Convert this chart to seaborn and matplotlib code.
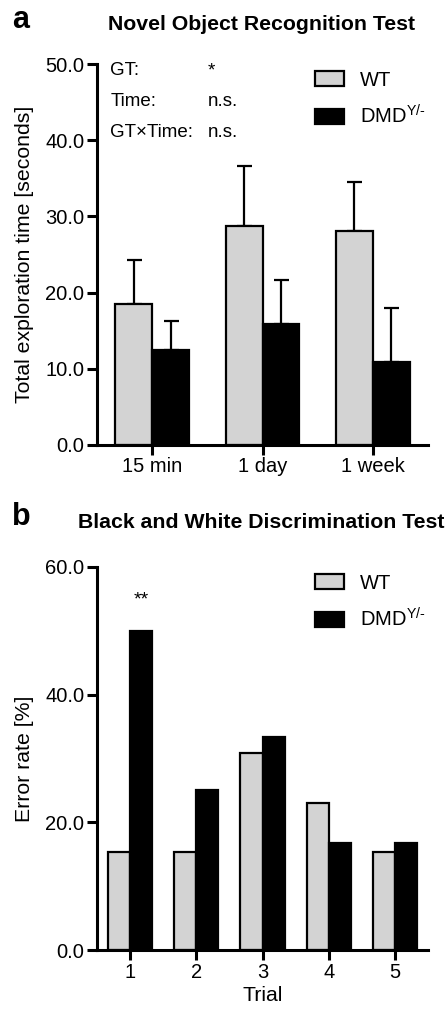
import matplotlib
matplotlib.use("Agg")
import matplotlib.pyplot as plt
import pandas as pd
import seaborn as sns
from matplotlib.patches import Patch
from matplotlib.ticker import FormatStrFormatter

# ---- data ----
timepoints = ["15 min", "1 day", "1 week"]
wt_time = [18.5, 28.8, 28.1]
dmd_time = [12.5, 15.9, 10.9]
wt_sem = [5.8, 7.8, 6.4]
dmd_sem = [3.8, 5.7, 7.1]

trials = ["1", "2", "3", "4", "5"]
wt_error_rate = [15.4, 15.4, 30.8, 23.1, 15.4]
dmd_error_rate = [50.0, 25.0, 33.3, 16.7, 16.7]

groups = ["WT", "DMD"]
group_labels = ["WT", r"DMD$^{\mathregular{Y/\text{-}}}$"]
stats_names = ["GT:", "Time:", "GT×Time:"]
stats_values = ["*", "n.s.", "n.s."]
a_ticks = [0, 10, 20, 30, 40, 50]
b_ticks = [0, 20, 40, 60]

colors = {"WT": "#d3d3d3", "DMD": "#000000"}

sns.set_style("ticks")
plt.rcParams["font.family"] = ["Liberation Sans", "DejaVu Sans"]
plt.rcParams["mathtext.fontset"] = "custom"
plt.rcParams["mathtext.rm"] = "Liberation Sans"
for k in ["text.color", "axes.labelcolor", "xtick.color", "ytick.color", "axes.edgecolor"]:
    plt.rcParams[k] = "black"

W, H = 446, 1009
fig = plt.figure(figsize=(W / 100, H / 100), dpi=100)

def ax_rect(left, right, top, bottom):
    return [left / W, 1 - bottom / H, (right - left) / W, (bottom - top) / H]

ax_a = fig.add_axes(ax_rect(97, 428, 64, 445))
ax_b = fig.add_axes(ax_rect(97, 428, 567, 950))

df_a = pd.DataFrame({
    "time": timepoints * 2,
    "value": wt_time + dmd_time,
    "group": ["WT"] * 3 + ["DMD"] * 3,
})
df_b = pd.DataFrame({
    "trial": trials * 2,
    "value": wt_error_rate + dmd_error_rate,
    "group": ["WT"] * 5 + ["DMD"] * 5,
})

LW = 1.6
SPINE = 2.2
TICKFS = 14.5
LABELFS = 15.3

for ax, df, xcol, order in [(ax_a, df_a, "time", timepoints), (ax_b, df_b, "trial", trials)]:
    sns.barplot(data=df, x=xcol, y="value", hue="group", order=order, hue_order=groups,
                palette=colors, saturation=1, width=0.67, gap=0, errorbar=None,
                edgecolor="black", linewidth=LW, legend=False, ax=ax, zorder=2)
    sns.despine(ax=ax)
    for s in ["left", "bottom"]:
        ax.spines[s].set_linewidth(SPINE)
        ax.spines[s].set_color("black")
    ax.tick_params(axis="both", width=SPINE, length=7, labelsize=TICKFS, pad=2,
                   color="black", labelcolor="black")
    ax.yaxis.set_major_formatter(FormatStrFormatter("%.1f"))
    ax.set_xlim(-0.5, len(order) - 0.5)
    handles = [Patch(facecolor=colors[g], edgecolor="black", linewidth=LW) for g in groups]
    ax.legend(handles, group_labels, loc="upper left", bbox_to_anchor=(0.66, 0.982),
              frameon=False, fontsize=14.5, handlelength=1.4, handleheight=0.75,
              handletextpad=0.8, labelspacing=0.7, borderpad=0, borderaxespad=0)

# error bars (upper only) for panel a
for cont, errs in zip(ax_a.containers, [wt_sem, dmd_sem]):
    for bar, e in zip(cont, errs):
        x = bar.get_x() + bar.get_width() / 2
        y = bar.get_height()
        ax_a.errorbar(x, y, yerr=[[0], [e]], fmt="none", ecolor="black",
                      elinewidth=LW, capsize=5.4, capthick=LW, zorder=1)

ax_a.set_ylim(0, 50)
ax_a.set_yticks(a_ticks)
ax_a.set_xlabel("")
ax_a.set_ylabel("Total exploration time [seconds]", fontsize=LABELFS)
ax_a.yaxis.set_label_coords(-0.19, 0.5)

for i, (n, v) in enumerate(zip(stats_names, stats_values)):
    yy = 0.982 - i * 0.081
    ax_a.text(0.04, yy, n, transform=ax_a.transAxes, fontsize=13.5, va="center", ha="left")
    ax_a.text(0.335, yy, v, transform=ax_a.transAxes, fontsize=13.5, va="center", ha="left")

ax_b.set_ylim(0, 60)
ax_b.set_yticks(b_ticks)
ax_b.set_xlabel("Trial", fontsize=LABELFS, labelpad=3)
ax_b.set_ylabel("Error rate [%]", fontsize=LABELFS)
ax_b.yaxis.set_label_coords(-0.19, 0.5)

# significance marker over DMD trial 1
bar1 = ax_b.containers[1][0]
ax_b.text(bar1.get_x() + bar1.get_width() / 2, bar1.get_height() + 3.5, "**",
          ha="center", va="bottom", fontsize=14)

fig.text(12 / W, 1 - 20 / H, "a", fontsize=22, fontweight="bold", ha="left", va="center")
fig.text(262 / W, 1 - 24 / H, "Novel Object Recognition Test", fontsize=15.3,
         fontweight="bold", ha="center", va="center")
fig.text(12 / W, 1 - 517 / H, "b", fontsize=22, fontweight="bold", ha="left", va="center")
fig.text(261 / W, 1 - 523 / H, "Black and White Discrimination Test", fontsize=15.3,
         fontweight="bold", ha="center", va="center")

fig.savefig("out.png", dpi=100)
